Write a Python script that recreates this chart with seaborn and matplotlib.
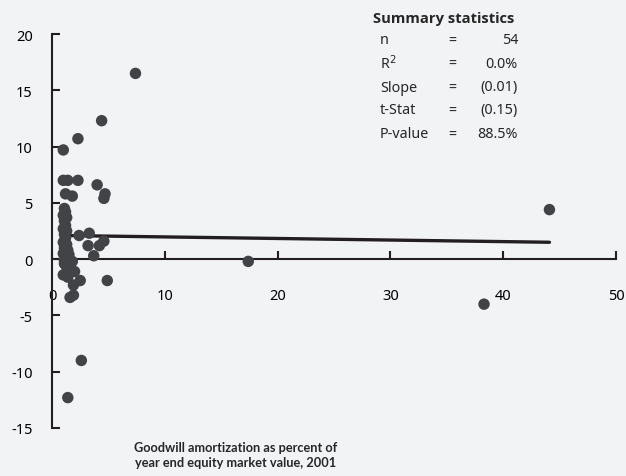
import matplotlib
matplotlib.use("Agg")
import matplotlib.pyplot as plt
import seaborn as sns
import pandas as pd

# Goodwill amortization (% of equity market value) vs. y-value
x_vals = [7.4, 4.4, 2.3, 1.0, 1.0, 1.4, 2.3, 4.0, 4.7, 4.6, 1.2, 1.8,
          1.1, 1.2, 1.0, 1.3, 1.1, 1.2, 1.0, 1.3, 1.1, 1.2, 1.0, 1.3, 1.1, 1.4, 1.0, 1.2, 1.5, 1.1, 1.3, 1.6, 1.0, 1.4,
          2.4, 3.3, 3.2, 4.2, 4.6, 3.7,
          1.1, 1.8, 1.6, 2.0, 2.5, 1.9, 1.9, 1.6, 4.9,
          2.6, 1.4, 17.4, 38.3, 44.1]
y_vals = [16.5, 12.3, 10.7, 9.7, 7.0, 7.0, 7.0, 6.6, 5.8, 5.4, 5.8, 5.6,
          4.5, 4.2, 3.9, 3.7, 3.4, 3.0, 2.7, 2.5, 2.2, 1.9, 1.5, 1.3, 1.0, 0.8, 0.5, 0.2, 0.4, -0.4, -0.7, -0.5, -1.4, -1.6,
          2.1, 2.3, 1.2, 1.2, 1.6, 0.3,
          -0.1, -0.2, -1.1, -1.1, -1.9, -2.3, -3.2, -3.4, -1.9,
          -9.0, -12.3, -0.2, -4.0, 4.4]

trend_x = [1.0, 44.1]
trend_y = [2.1, 1.5]

x_ticks = [0, 10, 20, 30, 40, 50]
y_ticks = [-15, -10, -5, 0, 5, 10, 15, 20]

stat_names = ["n", "R$^2$", "Slope", "t-Stat", "P-value"]
stat_values = ["54", "0.0%", "(0.01)", "(0.15)", "88.5%"]

bg = "#f2f3f5"
ink = "#231f20"
dot = "#424347"

sns.set_style("white")
plt.rcParams["font.family"] = ["Noto Sans", "DejaVu Sans"]
plt.rcParams["axes.unicode_minus"] = False

fig = plt.figure(figsize=(6.26, 4.77), dpi=100, facecolor=bg)
ax = fig.add_axes([52/626, 1-429/477, (616-52)/626, (429-35)/477])
ax.set_facecolor(bg)

df = pd.DataFrame({"x": x_vals, "y": y_vals})
tdf = pd.DataFrame({"x": trend_x, "y": trend_y})

sns.lineplot(data=tdf, x="x", y="y", ax=ax, color=ink, linewidth=2.4, zorder=3)
sns.scatterplot(data=df, x="x", y="y", ax=ax, color=dot, s=68, edgecolor="none", zorder=4, clip_on=False)

ax.set_xlim(0, 50)
ax.set_ylim(-15, 20)
ax.set_xticks(x_ticks)
ax.set_yticks(y_ticks)
ax.set_xlabel("")
ax.set_ylabel("")

for s in ["top", "right"]:
    ax.spines[s].set_visible(False)
ax.spines["bottom"].set_position(("data", 0))
for s in ["left", "bottom"]:
    ax.spines[s].set_color(ink)
    ax.spines[s].set_linewidth(1.5)

ax.tick_params(axis="x", bottom=True, direction="in", length=6, width=1.5, color=ink, pad=21, labelsize=10.5, labelcolor="black")
ax.tick_params(axis="y", left=True, direction="in", length=6, width=1.5, color=ink, pad=14, labelsize=10.5, labelcolor="black")

# Summary statistics box
fig.text(373/626, 1-19/477, "Summary statistics", fontsize=10.6, fontweight="bold", va="center", ha="left",
         family=["Open Sans", "DejaVu Sans"])
row_y = [41, 64, 88, 111, 135]
for name, val, yy in zip(stat_names, stat_values, row_y):
    fig.text(380/626, 1-yy/477, name, fontsize=10.3, va="center", ha="left")
    fig.text(452/626, 1-yy/477, "=", fontsize=10.3, va="center", ha="center")
    fig.text(518/626, 1-yy/477, val, fontsize=10.3, va="center", ha="right")

fig.text(236/626, 1-448/477, "Goodwill amortization as percent of", fontsize=9.2,
         fontweight="bold", ha="center", va="center", family=["Lato", "DejaVu Sans"])
fig.text(236/626, 1-463/477, "year end equity market value, 2001", fontsize=9.2,
         fontweight="bold", ha="center", va="center", family=["Lato", "DejaVu Sans"])

fig.savefig("out.png", dpi=100, facecolor=bg)
